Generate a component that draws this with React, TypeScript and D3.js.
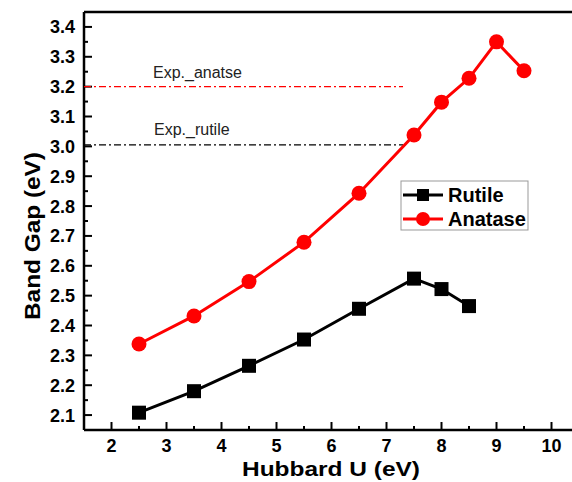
import React, { useRef, useEffect } from "react";
import * as d3 from "d3";

const uValues = [2.5, 3.5, 4.5, 5.5, 6.5, 7.5, 8, 8.5, 9, 9.5];
const rutileGap = [2.108, 2.18, 2.265, 2.353, 2.456, 2.557, 2.522, 2.465];
const anataseGap = [2.338, 2.432, 2.547, 2.679, 2.843, 3.038, 3.148, 3.228, 3.35, 3.253];
const expAnatase = 3.2;
const expRutile = 3.005;
const xTicks = [2, 3, 4, 5, 6, 7, 8, 9, 10];
const yTicks = [2.1, 2.2, 2.3, 2.4, 2.5, 2.6, 2.7, 2.8, 2.9, 3.0, 3.1, 3.2, 3.3, 3.4];

const W = 572;
const H = 482;
const left = 84, top = 12, bottom = 430;

function App() {
  const svgRef = useRef<SVGSVGElement>(null);

  useEffect(() => {
    document.body.style.margin = "0";
    document.body.style.overflow = "hidden";
    const svg = d3.select(svgRef.current);
    svg.selectAll("*").remove();
    const x = d3.scaleLinear().domain([1.5, 10.5]).range([left, 579]);
    const y = d3.scaleLinear().domain([2.05, 3.45]).range([bottom, top]);
    const font = "Arial, 'Liberation Sans', sans-serif";

    // frame
    const g = svg.append("g");
    g.append("line").attr("x1", left).attr("x2", W).attr("y1", top).attr("y2", top)
      .attr("stroke", "#000").attr("stroke-width", 2.5);
    g.append("line").attr("x1", left).attr("x2", W).attr("y1", bottom).attr("y2", bottom)
      .attr("stroke", "#000").attr("stroke-width", 2.5);
    g.append("line").attr("x1", left).attr("x2", left).attr("y1", top).attr("y2", bottom)
      .attr("stroke", "#000").attr("stroke-width", 2.5);

    // x ticks (inward)
    const xMinor = d3.range(1.5, 10.51, 0.5);
    xMinor.forEach(v => {
      const major = Math.abs(v - Math.round(v)) < 1e-6;
      g.append("line").attr("x1", x(v)).attr("x2", x(v))
        .attr("y1", bottom).attr("y2", bottom - (major ? 8 : 4))
        .attr("stroke", "#000").attr("stroke-width", 2);
    });
    xTicks.forEach(v => {
      g.append("text").attr("x", x(v)).attr("y", bottom + 22)
        .attr("text-anchor", "middle").attr("font-family", font)
        .attr("font-weight", "bold").attr("font-size", 18).text(v);
    });

    // y ticks (inward)
    const yMinor = d3.range(2.05, 3.451, 0.05);
    yMinor.forEach(v => {
      const major = Math.abs(v * 10 - Math.round(v * 10)) < 1e-6;
      g.append("line").attr("x1", left).attr("x2", left + (major ? 8 : 4))
        .attr("y1", y(v)).attr("y2", y(v))
        .attr("stroke", "#000").attr("stroke-width", 2);
    });
    yTicks.forEach(v => {
      g.append("text").attr("x", left - 9).attr("y", y(v) + 6.5)
        .attr("text-anchor", "end").attr("font-family", font)
        .attr("font-weight", "bold").attr("font-size", 18).text(v.toFixed(1));
    });

    // axis titles
    svg.append("text").attr("x", 242).attr("y", 476)
      .attr("textLength", 178).attr("lengthAdjust", "spacingAndGlyphs")
      .attr("font-family", font).attr("font-weight", "bold").attr("font-size", 21)
      .text("Hubbard U (eV)");
    svg.append("text").attr("transform", "translate(40, 320) rotate(-90)")
      .attr("textLength", 168).attr("lengthAdjust", "spacingAndGlyphs")
      .attr("font-family", font)
      .attr("font-weight", "bold").attr("font-size", 22).text("Band Gap (eV)");

    // experimental reference lines
    svg.append("line").attr("x1", left).attr("x2", x(7.3))
      .attr("y1", y(expAnatase)).attr("y2", y(expAnatase))
      .attr("stroke", "#f00").attr("stroke-width", 1.2).attr("stroke-dasharray", "7,3,2,3");
    svg.append("line").attr("x1", left).attr("x2", x(7.3))
      .attr("y1", y(expRutile)).attr("y2", y(expRutile))
      .attr("stroke", "#000").attr("stroke-width", 1.2).attr("stroke-dasharray", "7,3,2,3");
    svg.append("text").attr("x", 153).attr("y", 78).attr("font-family", font)
      .attr("font-size", 16).attr("fill", "#222").text("Exp._anatse");
    svg.append("text").attr("x", 154).attr("y", 135).attr("font-family", font)
      .attr("font-size", 16).attr("fill", "#222").text("Exp._rutile");

    const lineGen = d3.line<number>().x((d, i) => x(uValues[i])).y(d => y(d));

    // rutile
    svg.append("path").datum(rutileGap).attr("d", lineGen)
      .attr("fill", "none").attr("stroke", "#000").attr("stroke-width", 3);
    svg.selectAll(".sq").data(rutileGap).join("rect").attr("class", "sq")
      .attr("x", (d, i) => x(uValues[i]) - 7).attr("y", d => y(d) - 7)
      .attr("width", 14).attr("height", 14).attr("fill", "#000");

    // anatase
    svg.append("path").datum(anataseGap).attr("d", lineGen)
      .attr("fill", "none").attr("stroke", "#f00").attr("stroke-width", 3);
    svg.selectAll(".ci").data(anataseGap).join("circle").attr("class", "ci")
      .attr("cx", (d, i) => x(uValues[i])).attr("cy", d => y(d))
      .attr("r", 7.5).attr("fill", "#f00");

    // legend
    const lg = svg.append("g");
    lg.append("rect").attr("x", 401).attr("y", 181).attr("width", 127).attr("height", 49)
      .attr("fill", "#fff").attr("stroke", "#999").attr("stroke-width", 1);
    lg.append("line").attr("x1", 403).attr("x2", 443).attr("y1", 195).attr("y2", 195)
      .attr("stroke", "#000").attr("stroke-width", 3);
    lg.append("rect").attr("x", 417).attr("y", 189).attr("width", 12).attr("height", 12).attr("fill", "#000");
    lg.append("line").attr("x1", 403).attr("x2", 443).attr("y1", 219).attr("y2", 219)
      .attr("stroke", "#f00").attr("stroke-width", 3);
    lg.append("circle").attr("cx", 423).attr("cy", 219).attr("r", 7).attr("fill", "#f00");
    lg.append("text").attr("x", 448).attr("y", 202).attr("font-family", font)
      .attr("font-weight", "bold").attr("font-size", 20).text("Rutile");
    lg.append("text").attr("x", 448).attr("y", 226).attr("font-family", font)
      .attr("font-weight", "bold").attr("font-size", 20).text("Anatase");
  }, []);

  return <svg ref={svgRef} width={W} height={H} style={{ display: "block" }} />;
}

export default App;
